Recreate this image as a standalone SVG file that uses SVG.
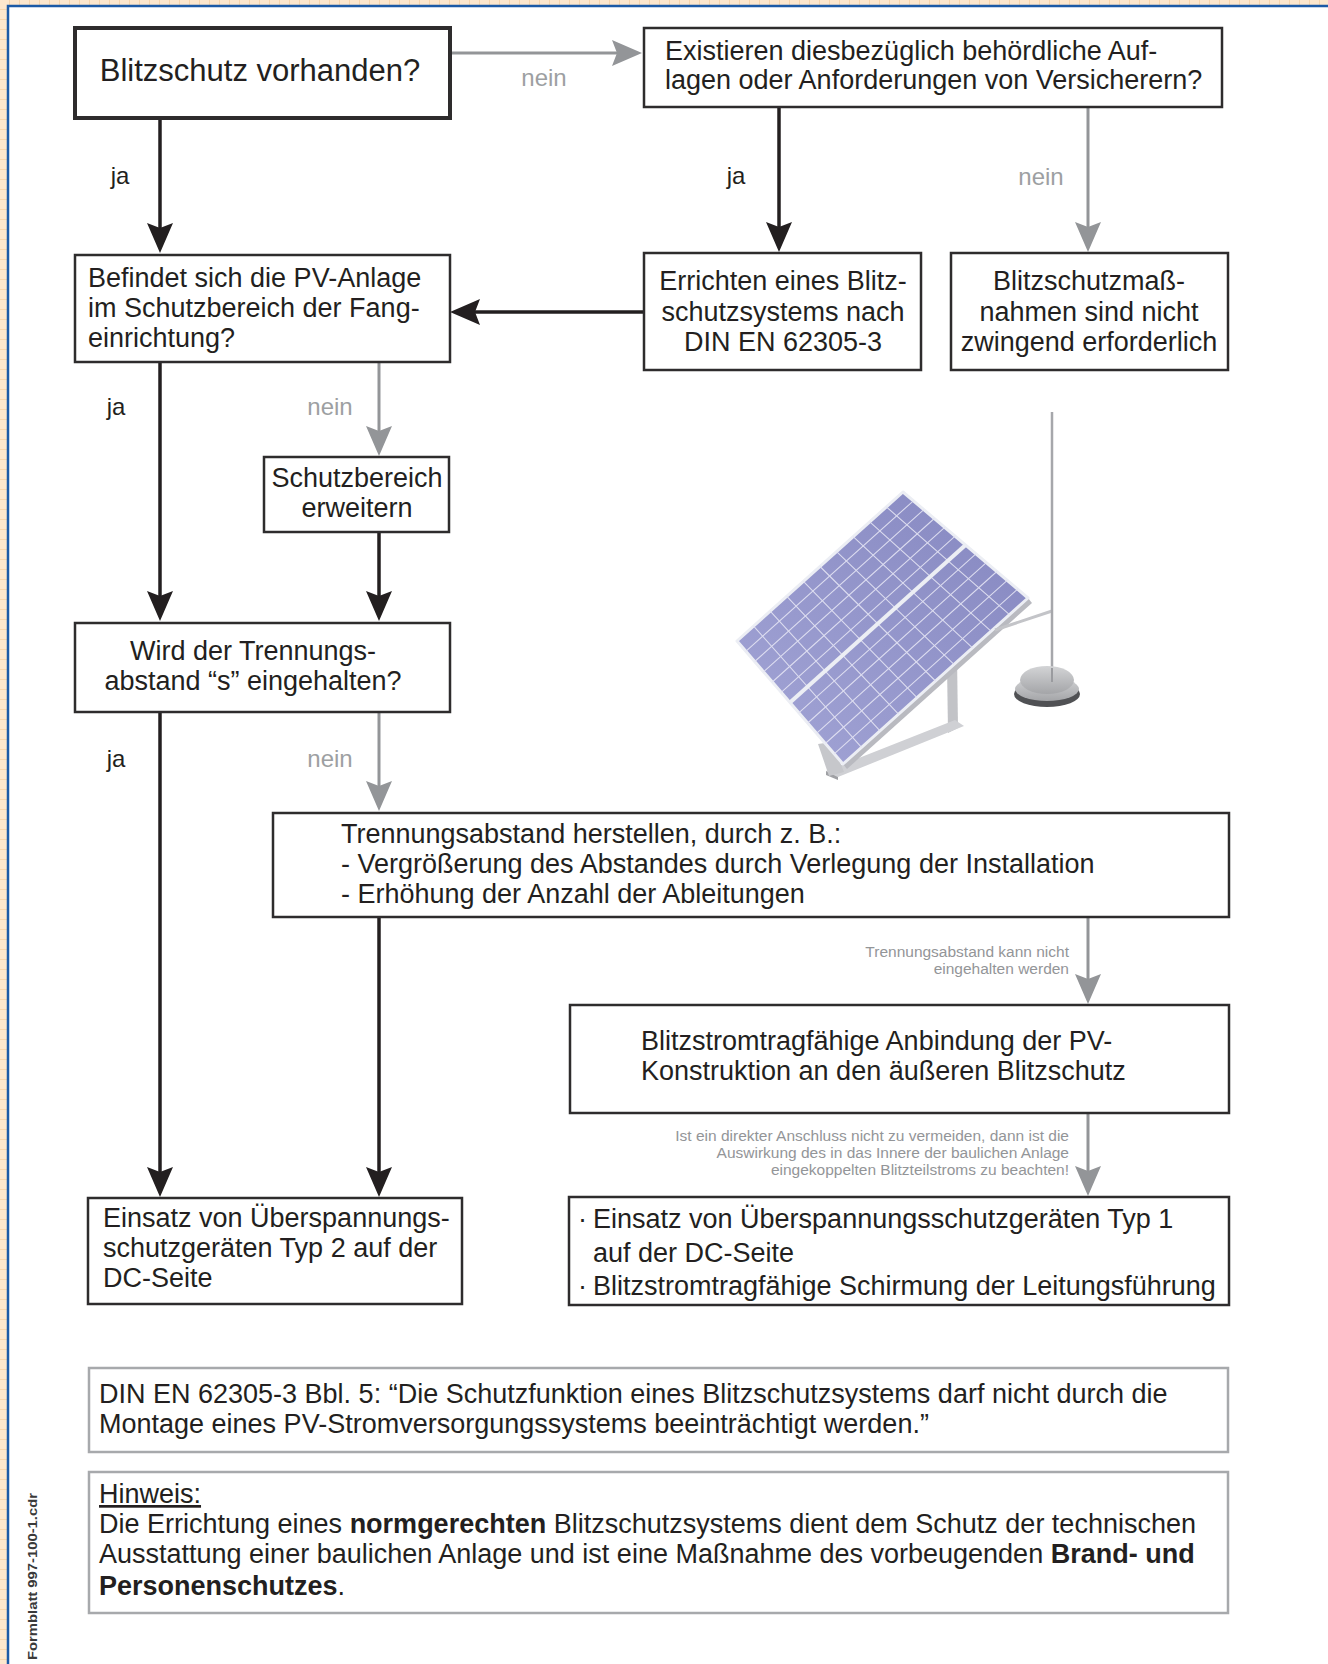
<svg xmlns="http://www.w3.org/2000/svg" width="1328" height="1664" viewBox="0 0 1328 1664">
  <defs>
    <style>
      .box { fill: #ffffff; stroke: #2e2c2d; stroke-width: 2.5; }
      .box-main { stroke-width: 4; }
      .note { fill: #ffffff; stroke: #a7a9ac; stroke-width: 2.5; }
      .t { font-family: "Liberation Sans", Arial, sans-serif; font-size: 27px; fill: #231f20; }
      .t-big { font-size: 31px; }
      .mid { text-anchor: middle; }
      .lbl { font-family: "Liberation Sans", Arial, sans-serif; font-size: 24px; text-anchor: middle; }
      .yes { fill: #231f20; }
      .no { fill: #9d9fa2; }
      .small { font-family: "Liberation Sans", Arial, sans-serif; font-size: 15.5px; fill: #939598; text-anchor: end; }
      .c-black { stroke: #231f20; stroke-width: 3.5; fill: none; marker-end: url(#ah-black); }
      .c-gray { stroke: #939598; stroke-width: 3; fill: none; marker-end: url(#ah-gray); }
      .cell { stroke: #e4e4f4; stroke-width: 1.1; fill: none; opacity: 0.9; }
    </style>
    <marker id="ah-black" markerUnits="userSpaceOnUse" markerWidth="30" markerHeight="26" viewBox="0 0 30 26" refX="22" refY="13" orient="auto">
      <path d="M0,0 L30,13 L0,26 L5,13 z" fill="#231f20"/>
    </marker>
    <marker id="ah-gray" markerUnits="userSpaceOnUse" markerWidth="30" markerHeight="26" viewBox="0 0 30 26" refX="22" refY="13" orient="auto">
      <path d="M0,0 L30,13 L0,26 L5,13 z" fill="#939598"/>
    </marker>
    <pattern id="paper" width="10" height="10" patternUnits="userSpaceOnUse">
      <rect width="10" height="10" fill="#fde7cd"/>
      <path d="M10,0 V10 M0,10 H10" stroke="#f6cfa3" stroke-width="1.5"/>
    </pattern>
    <linearGradient id="pv" x1="0" y1="1" x2="1" y2="0">
      <stop offset="0" stop-color="#a3a5d6"/>
      <stop offset="1" stop-color="#8587c0"/>
    </linearGradient>
    <linearGradient id="puck" x1="0" y1="0" x2="0" y2="1">
      <stop offset="0" stop-color="#d3d4d6"/>
      <stop offset="1" stop-color="#a4a5a8"/>
    </linearGradient>
  </defs>

  <!-- page background and frame -->
  <g id="frame">
    <rect width="1328" height="1664" fill="url(#paper)"/>
    <rect x="8" y="6" width="1320" height="1658" fill="#ffffff"/>
    <path d="M8,1664 V6 H1328" fill="none" stroke="#1c5aa6" stroke-width="2.5"/>
  </g>

  <!-- photovoltaic array with air-termination rod -->
  <g id="illustration">
    <!-- mounting frame -->
    <polygon points="947,664 957,656 958,728 948,733" fill="#c2c3c7"/>
    <polygon points="955,720 964,726 838,777 826,771" fill="#cfd0d4"/>
    <polygon points="826,771 838,777 838,780 826,775" fill="#9fa0a4"/>
    <polygon points="818,744 832,742 844,772 829,776" fill="#c6c7cb"/>
    <!-- module edge thickness -->
    <polygon points="1028,598 843,764 847,769 1032,603" fill="#b9bac0"/>
    <!-- modules -->
    <polygon points="737,641 903,492 1028,598 843,764" fill="url(#pv)" stroke="#eceef4" stroke-width="3" stroke-linejoin="round"/>
    <g class="cell">
      <path d="M745.8,651.3 L913.4,500.8 M754.7,661.5 L923.8,509.7 M763.5,671.8 L934.3,518.5 M772.3,682 L944.7,527.3 M781.2,692.3 L955.1,536.2"/>
      <path d="M798.8,712.8 L975.9,553.8 M807.7,723 L986.3,562.7 M816.5,733.3 L996.8,571.5 M825.3,743.5 L1007.2,580.3 M834.2,753.8 L1017.6,589.2"/>
      <path d="M753.6,626.1 L861.5,747.4 M770.2,611.2 L880,730.8 M786.8,596.3 L898.5,714.2 M803.4,581.4 L917,697.6 M820,566.5 L935.5,681 M836.6,551.6 L954,664.4 M853.2,536.7 L972.5,647.8 M869.8,521.8 L991,631.2 M886.4,506.9 L1009.5,614.6"/>
    </g>
    <path d="M790,702.5 L965.5,545" stroke="#eceef4" stroke-width="4"/>
    <!-- rod, clamp and concrete base -->
    <line x1="995" y1="630" x2="1052" y2="611" stroke="#c3c4c8" stroke-width="3"/>
    <line x1="1052" y1="412" x2="1052" y2="678" stroke="#a6a7ab" stroke-width="2.5"/>
    <ellipse cx="1047" cy="694" rx="33" ry="13" fill="#505154"/>
    <ellipse cx="1047" cy="689" rx="32" ry="12" fill="url(#puck)"/>
    <ellipse cx="1047" cy="680" rx="27" ry="14" fill="url(#puck)"/>
    <line x1="1052" y1="668" x2="1052" y2="682" stroke="#9a9b9f" stroke-width="2"/>
  </g>

  <!-- connectors -->
  <g id="connectors">
    <path class="c-gray" d="M452,53 H634"/>
    <path class="c-black" d="M160,119 V245"/>
    <path class="c-black" d="M779,107 V244"/>
    <path class="c-gray" d="M1088,107 V244"/>
    <path class="c-black" d="M643,312 H458"/>
    <path class="c-black" d="M160,362 V613"/>
    <path class="c-gray" d="M379,362 V448"/>
    <path class="c-black" d="M379,532 V613"/>
    <path class="c-black" d="M160,712 V1189"/>
    <path class="c-gray" d="M379,712 V803"/>
    <path class="c-black" d="M379,917 V1189"/>
    <path class="c-gray" d="M1088,917 V996"/>
    <path class="c-gray" d="M1088,1113 V1188"/>

    <text class="lbl no" x="544" y="86">nein</text>
    <text class="lbl yes" x="120" y="184">ja</text>
    <text class="lbl yes" x="736" y="184">ja</text>
    <text class="lbl no" x="1041" y="185">nein</text>
    <text class="lbl yes" x="116" y="415">ja</text>
    <text class="lbl no" x="330" y="415">nein</text>
    <text class="lbl yes" x="116" y="767">ja</text>
    <text class="lbl no" x="330" y="767">nein</text>

    <text class="small" x="1069" y="957">Trennungsabstand kann nicht</text>
    <text class="small" x="1069" y="974">eingehalten werden</text>
    <text class="small" x="1069" y="1141">Ist ein direkter Anschluss nicht zu vermeiden, dann ist die</text>
    <text class="small" x="1069" y="1158">Auswirkung des in das Innere der baulichen Anlage</text>
    <text class="small" x="1069" y="1175">eingekoppelten Blitzteilstroms zu beachten!</text>
  </g>

  <g id="n-blitzschutz">
    <rect class="box box-main" x="75" y="28" width="375" height="90"/>
    <text class="t t-big mid" x="260" y="81">Blitzschutz vorhanden?</text>
  </g>

  <g id="n-auflagen">
    <rect class="box" x="644" y="28" width="578" height="79"/>
    <text class="t" x="665" y="60">Existieren diesbezüglich behördliche Auf-</text>
    <text class="t" x="665" y="89">lagen oder Anforderungen von Versicherern?</text>
  </g>

  <g id="n-schutzbereich">
    <rect class="box" x="75" y="255" width="375" height="107"/>
    <text class="t" x="88" y="287">Befindet sich die PV-Anlage</text>
    <text class="t" x="88" y="317">im Schutzbereich der Fang-</text>
    <text class="t" x="88" y="347">einrichtung?</text>
  </g>

  <g id="n-errichten">
    <rect class="box" x="644" y="253" width="277" height="117"/>
    <text class="t mid" x="783" y="290">Errichten eines Blitz-</text>
    <text class="t mid" x="783" y="321">schutzsystems nach</text>
    <text class="t mid" x="783" y="351">DIN EN 62305-3</text>
  </g>

  <g id="n-nicht-erforderlich">
    <rect class="box" x="951" y="253" width="277" height="117"/>
    <text class="t mid" x="1089" y="290">Blitzschutzmaß-</text>
    <text class="t mid" x="1089" y="321">nahmen sind nicht</text>
    <text class="t mid" x="1089" y="351">zwingend erforderlich</text>
  </g>

  <g id="n-erweitern">
    <rect class="box" x="264" y="457" width="185" height="75"/>
    <text class="t mid" x="357" y="487">Schutzbereich</text>
    <text class="t mid" x="357" y="517">erweitern</text>
  </g>

  <g id="n-trennungsabstand">
    <rect class="box" x="75" y="623" width="375" height="89"/>
    <text class="t mid" x="253" y="660">Wird der Trennungs-</text>
    <text class="t mid" x="253" y="690">abstand “s” eingehalten?</text>
  </g>

  <g id="n-herstellen">
    <rect class="box" x="273" y="813" width="956" height="104"/>
    <text class="t" x="341" y="843">Trennungsabstand herstellen, durch z. B.:</text>
    <text class="t" x="341" y="873">- Vergrößerung des Abstandes durch Verlegung der Installation</text>
    <text class="t" x="341" y="903">- Erhöhung der Anzahl der Ableitungen</text>
  </g>

  <g id="n-anbindung">
    <rect class="box" x="570" y="1005" width="659" height="108"/>
    <text class="t" x="641" y="1050">Blitzstromtragfähige Anbindung der PV-</text>
    <text class="t" x="641" y="1080">Konstruktion an den äußeren Blitzschutz</text>
  </g>

  <g id="n-typ2">
    <rect class="box" x="88" y="1198" width="374" height="106"/>
    <text class="t" x="103" y="1227">Einsatz von Überspannungs-</text>
    <text class="t" x="103" y="1257">schutzgeräten Typ 2 auf der</text>
    <text class="t" x="103" y="1287">DC-Seite</text>
  </g>

  <g id="n-typ1">
    <rect class="box" x="569" y="1197" width="660" height="108"/>
    <text class="t" x="578" y="1228">·</text>
    <text class="t" x="593" y="1228">Einsatz von Überspannungsschutzgeräten Typ 1</text>
    <text class="t" x="593" y="1262">auf der DC-Seite</text>
    <text class="t" x="578" y="1295">·</text>
    <text class="t" x="593" y="1295">Blitzstromtragfähige Schirmung der Leitungsführung</text>
  </g>

  <g id="n-norm">
    <rect class="note" x="89" y="1368" width="1139" height="84"/>
    <text class="t" x="99" y="1403">DIN EN 62305-3 Bbl. 5: “Die Schutzfunktion eines Blitzschutzsystems darf nicht durch die</text>
    <text class="t" x="99" y="1433">Montage eines PV-Stromversorgungssystems beeinträchtigt werden.”</text>
  </g>

  <g id="n-hinweis">
    <rect class="note" x="89" y="1472" width="1139" height="141"/>
    <text class="t" x="99" y="1503" text-decoration="underline">Hinweis:</text>
    <text class="t" x="99" y="1533">Die Errichtung eines <tspan font-weight="bold">normgerechten</tspan> Blitzschutzsystems dient dem Schutz der technischen</text>
    <text class="t" x="99" y="1563">Ausstattung einer baulichen Anlage und ist eine Maßnahme des vorbeugenden <tspan font-weight="bold">Brand- und</tspan></text>
    <text class="t" x="99" y="1595"><tspan font-weight="bold">Personenschutzes</tspan>.</text>
  </g>

  <text transform="translate(37,1660) rotate(-90)" font-family="'Liberation Sans', Arial, sans-serif" font-size="13" font-weight="bold" fill="#3a3a3a" textLength="167" lengthAdjust="spacingAndGlyphs">Formblatt 997-100-1.cdr</text>
</svg>
